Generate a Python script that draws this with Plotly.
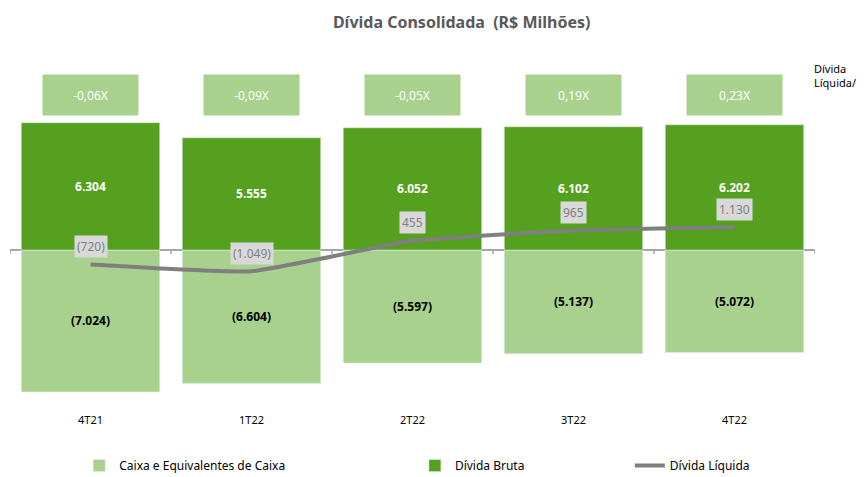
import plotly.graph_objects as go

# ── dados ────────────────────────────────────────────────────
periodos = ["4T21", "1T22", "2T22", "3T22", "4T22"]
caixa = [-7024, -6604, -5597, -5137, -5072]
divida_bruta = [6304, 5555, 6052, 6102, 6202]
divida_liquida = [-720, -1049, 455, 965, 1130]
alavancagem = [-0.06, -0.09, -0.05, 0.19, 0.23]

VERDE_ESC = "#55a11f"
VERDE_CLA = "#a9d18e"
CINZA = "#7f7f7f"
FONTE = "Noto Sans"


def fmt(v):
    s = f"{abs(v):,.0f}".replace(",", ".")
    return f"({s})" if v < 0 else s


fig = go.Figure()

fig.add_trace(go.Bar(
    x=periodos, y=caixa, name="Caixa e Equivalentes de Caixa",
    marker_color=VERDE_CLA, text=[fmt(v) for v in caixa],
    textposition="inside", insidetextanchor="middle",
    textfont=dict(color="black", size=12, family=FONTE, weight="bold"),
    legend="legend",
))
fig.add_trace(go.Bar(
    x=periodos, y=divida_bruta, name="Dívida Bruta",
    marker_color=VERDE_ESC, text=[fmt(v) for v in divida_bruta],
    textposition="inside", insidetextanchor="middle",
    textfont=dict(color="white", size=12, family=FONTE, weight="bold"),
    legend="legend2",
))
fig.add_trace(go.Scatter(
    x=periodos, y=divida_liquida, name="Dívida Líquida",
    mode="lines", line=dict(color=CINZA, width=4, shape="spline", smoothing=0.4),
    legend="legend3",
))

# rótulos da dívida líquida
for p, v in zip(periodos, divida_liquida):
    fig.add_annotation(
        x=p, y=v, xref="x", yref="y", text=fmt(v), showarrow=False,
        yshift=18, bgcolor="#d9d9d9", borderpad=2,
        font=dict(color=CINZA, size=12, family=FONTE),
    )

# caixas de alavancagem
for p, r in zip(periodos, alavancagem):
    fig.add_annotation(
        x=p, y=0.876, xref="x", yref="paper", yanchor="middle",
        text=f"{r:.2f}".replace(".", ",") + "X", showarrow=False,
        width=93, height=38, bgcolor=VERDE_CLA,
        font=dict(color="white", size=12, family=FONTE),
    )

# marcas do eixo no zero
for i in range(len(periodos) + 1):
    fig.add_shape(type="line", xref="x", yref="y",
                  x0=i - 0.5, x1=i - 0.5, y0=0, y1=-200,
                  line=dict(color="#a6a6a6", width=1.5))

fig.add_annotation(
    text="Dívida<br>Líquida/", xref="paper", yref="paper",
    x=1.0, xshift=-3, y=0.93, xanchor="left", yanchor="middle",
    align="left", showarrow=False,
    font=dict(color="black", size=11, family=FONTE),
)

leg = dict(orientation="h", yref="paper", y=-0.148, yanchor="middle",
           xref="paper", bgcolor="rgba(0,0,0,0)",
           font=dict(size=12, color="black", family=FONTE))

fig.update_layout(
    width=856, height=469,
    paper_bgcolor="white", plot_bgcolor="white",
    font=dict(family=FONTE, color="black", size=12),
    margin=dict(l=2, r=49, t=42, b=65, autoexpand=False),
    title=dict(text="Dívida Consolidada  (R$ Milhões)", x=0.53, y=0.97,
               xanchor="center", yanchor="middle",
               font=dict(size=16, color="#595959", family=FONTE, weight="bold")),
    barmode="relative", bargap=0.14,
    xaxis=dict(range=[-0.5, 4.5], showgrid=False, showline=False,
               ticks="", tickfont=dict(size=11, color="black")),
    yaxis=dict(range=[-8019, 9900], visible=True, showgrid=False,
               showticklabels=False, zeroline=True,
               zerolinecolor="#a6a6a6", zerolinewidth=1.5),
    legend=dict(leg, x=0.086),
    legend2=dict(leg, x=0.503),
    legend3=dict(leg, x=0.77),
    showlegend=True,
)

fig.write_html("out.html")
